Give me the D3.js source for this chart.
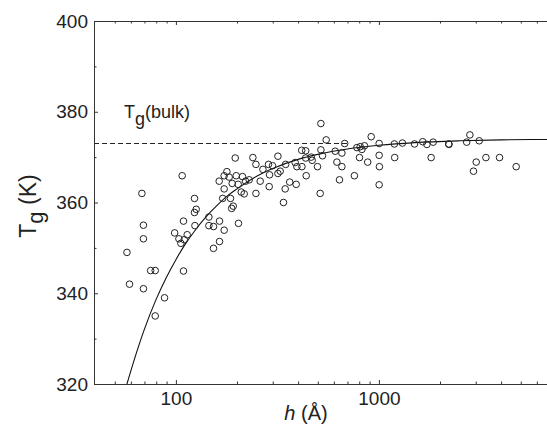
<!DOCTYPE html>
<html>
<head>
<meta charset="utf-8">
<script src="https://cdn.jsdelivr.net/npm/d3@7"></script>
<style>
  body { margin: 0; background: #fff; }
  svg { display: block; font-family: "Liberation Sans", Arial, Helvetica, sans-serif; }
</style>
</head>
<body>
<div id="the_chart"></div>
<script>
// measured points: film thickness h (Angstrom) and Tg (K)
var hData = [57.4, 59.1, 68.0, 69.2, 69.2, 69.2, 75.1, 79.1, 79.1, 87.9, 98.6, 103.5, 105.8, 107.4, 109.0, 109.9, 109.0, 113.7,
  123.5, 123.5, 125.9, 124.1, 145.4, 145.4, 153.2, 164.0, 172.9, 153.2, 164.0, 163.4, 172.9, 170.0, 185.8, 191.6, 188.3, 203.4,
  178.3, 172.9, 183.0, 198.2, 212.9, 189.4, 202.7, 209.8, 217.0, 220.3, 229.6, 196.0, 247.9, 260.2, 288.2, 338.8, 345.4, 363.6,
  239.5, 247.9, 268.3, 285.9, 299.2, 289.2, 318.1, 326.4, 318.1, 347.4, 391.3, 386.9, 394.5, 417.7, 416.7, 435.9, 435.9, 463.9,
  469.2, 438.5, 498.3, 518.0, 518.0, 527.5, 513.8, 550.0, 609.1, 657.3, 621.0, 657.3, 639.6, 678.4, 757.5, 779.3, 809.1, 824.8,
  849.5, 802.6, 880.8, 916.4, 1003, 1003, 1006, 1003, 1192, 1306, 1498, 1196, 1644, 1724, 1851, 1809, 2207, 2215, 2707, 2807,
  3120, 3016, 2924, 3367, 3929, 4746];
var tgData = [349.0, 342.0, 362.0, 355.0, 352.0, 341.0, 345.0, 345.0, 335.0, 339.0, 353.3, 352.0, 351.0, 365.9, 355.9, 351.8, 344.9, 352.9,
  360.9, 357.8, 358.5, 354.9, 356.8, 354.9, 354.7, 355.9, 353.9, 349.9, 351.4, 364.7, 363.0, 360.9, 360.9, 359.2, 358.7, 355.4,
  366.8, 365.9, 365.6, 365.9, 365.7, 364.2, 364.0, 362.3, 361.9, 364.7, 365.0, 369.8, 362.0, 364.7, 363.5, 360.0, 363.0, 364.5,
  369.9, 368.4, 367.3, 368.4, 368.1, 366.1, 370.2, 366.9, 366.4, 368.4, 364.0, 368.8, 367.9, 367.9, 371.5, 371.4, 369.8, 370.0,
  369.3, 365.9, 367.9, 377.4, 371.6, 370.3, 362.0, 373.8, 371.3, 370.9, 368.9, 367.9, 365.0, 373.0, 365.9, 372.1, 372.3, 371.7,
  372.5, 369.9, 368.9, 374.5, 373.0, 370.4, 367.9, 363.9, 372.9, 373.1, 372.9, 369.9, 373.4, 372.8, 373.3, 369.9, 372.9, 372.8,
  373.3, 374.9, 373.6, 368.9, 366.9, 369.9, 369.9, 367.9];

// fitted curve
var fitH  = [57.4, 62, 70, 80, 90, 100, 110, 125, 140, 160, 180, 200, 250, 300, 400, 500, 700, 1000, 1500, 2500, 4000, 7000, 10000];
var fitTg = [320.0, 325.0, 332.1, 338.7, 343.6, 347.4, 350.5, 354.0, 356.7, 359.4, 361.5, 363.0, 365.8, 367.5, 369.5, 370.6, 371.8,
  372.6, 373.2, 373.6, 373.8, 373.9, 373.95];

var bulkTg = 373;
var bulkLineEnd = 700;

var xMajor = [100, 1000];
var xMinor = [50, 60, 70, 80, 90, 200, 300, 400, 500, 600, 700, 800, 900, 2000, 3000, 4000, 5000, 6000, 7000, 8000, 9000];
var yMajor = [320, 340, 360, 380, 400];
var yMinor = [330, 350, 370, 390];

function gen_vis() {
    var w = 547, h = 425;
    var left = 94, top = 21, bottom = 384;
    var decade = 203;

    var svg = d3.select("#the_chart").append("svg")
        .attr("width", w)
        .attr("height", h);

    var xscale = d3.scaleLog()
        .domain([39.5, 10000])
        .range([left, left + decade * Math.log10(10000 / 39.5)]);

    var yscale = d3.scaleLinear()
        .domain([320, 400])
        .range([bottom, top]);

    svg.append("clipPath").attr("id", "plotclip")
        .append("rect")
        .attr("x", left).attr("y", top)
        .attr("width", w - left).attr("height", bottom - top);

    var plot = svg.append("g").attr("clip-path", "url(#plotclip)");

    // dashed bulk Tg
    plot.append("line")
        .attr("x1", xscale(39.5)).attr("x2", xscale(bulkLineEnd))
        .attr("y1", yscale(bulkTg)).attr("y2", yscale(bulkTg))
        .attr("stroke", "#222")
        .attr("stroke-width", 1.1)
        .attr("stroke-dasharray", "5,3");

    // fit curve
    var fit = fitH.map(function (d, i) { return [d, fitTg[i]]; });
    var line = d3.line()
        .x(function (d) { return xscale(d[0]); })
        .y(function (d) { return yscale(d[1]); })
        .curve(d3.curveMonotoneX);
    plot.append("path")
        .datum(fit)
        .attr("d", line)
        .attr("fill", "none")
        .attr("stroke", "#111")
        .attr("stroke-width", 1.1);

    // data circles
    var pts = hData.map(function (d, i) { return { h: d, tg: tgData[i] }; });
    plot.selectAll("circle")
        .data(pts)
        .enter().append("circle")
        .attr("cx", function (d) { return xscale(d.h); })
        .attr("cy", function (d) { return yscale(d.tg); })
        .attr("r", 3.3)
        .attr("fill", "none")
        .attr("stroke", "#222")
        .attr("stroke-width", 1);

    // axes
    var xaxis = d3.axisBottom(xscale)
        .tickValues(xMajor)
        .tickFormat(d3.format("d"))
        .tickSizeInner(-4)
        .tickSizeOuter(0)
        .tickPadding(8);
    svg.append("g")
        .attr("transform", "translate(0," + bottom + ")")
        .call(xaxis);
    svg.append("g")
        .attr("transform", "translate(0," + bottom + ")")
        .call(d3.axisBottom(xscale).tickValues(xMinor).tickFormat("").tickSizeInner(-2.5).tickSizeOuter(0));

    svg.append("g")
        .attr("transform", "translate(0," + top + ")")
        .call(d3.axisTop(xscale).tickValues(xMajor).tickFormat("").tickSizeInner(-4).tickSizeOuter(0));
    svg.append("g")
        .attr("transform", "translate(0," + top + ")")
        .call(d3.axisTop(xscale).tickValues(xMinor).tickFormat("").tickSizeInner(-2.5).tickSizeOuter(0));

    var yaxis = d3.axisLeft(yscale)
        .tickValues(yMajor)
        .tickSizeInner(-4)
        .tickSizeOuter(0)
        .tickPadding(6);
    svg.append("g")
        .attr("transform", "translate(" + left + ",0)")
        .call(yaxis);
    svg.append("g")
        .attr("transform", "translate(" + left + ",0)")
        .call(d3.axisLeft(yscale).tickValues(yMinor).tickFormat("").tickSizeInner(-2.5).tickSizeOuter(0));

    svg.selectAll(".domain, .tick line")
        .attr("stroke", "#333")
        .attr("stroke-width", 1);
    svg.selectAll(".tick text")
        .style("font-size", "19px")
        .attr("fill", "#222");

    // axis titles
    var yt = svg.append("text")
        .attr("transform", "translate(36,206) rotate(-90)")
        .attr("text-anchor", "middle")
        .style("font-size", "23px")
        .attr("fill", "#222");
    yt.append("tspan").text("T");
    yt.append("tspan").attr("dy", 7).style("font-size", "22px").text("g");
    yt.append("tspan").attr("dy", -7).text(" (K)");

    var xt = svg.append("text")
        .attr("x", 306).attr("y", 420)
        .attr("text-anchor", "middle")
        .style("font-size", "20px")
        .attr("fill", "#222");
    xt.append("tspan").style("font-style", "italic").text("h");
    xt.append("tspan").text(" (Å)");

    var bl = svg.append("text")
        .attr("x", 124).attr("y", 118)
        .style("font-size", "18px")
        .attr("fill", "#222");
    bl.append("tspan").text("T");
    bl.append("tspan").attr("dy", 6.5).text("g");
    bl.append("tspan").attr("dy", -6.5).text("(bulk)");
}

gen_vis();
</script>
</body>
</html>
